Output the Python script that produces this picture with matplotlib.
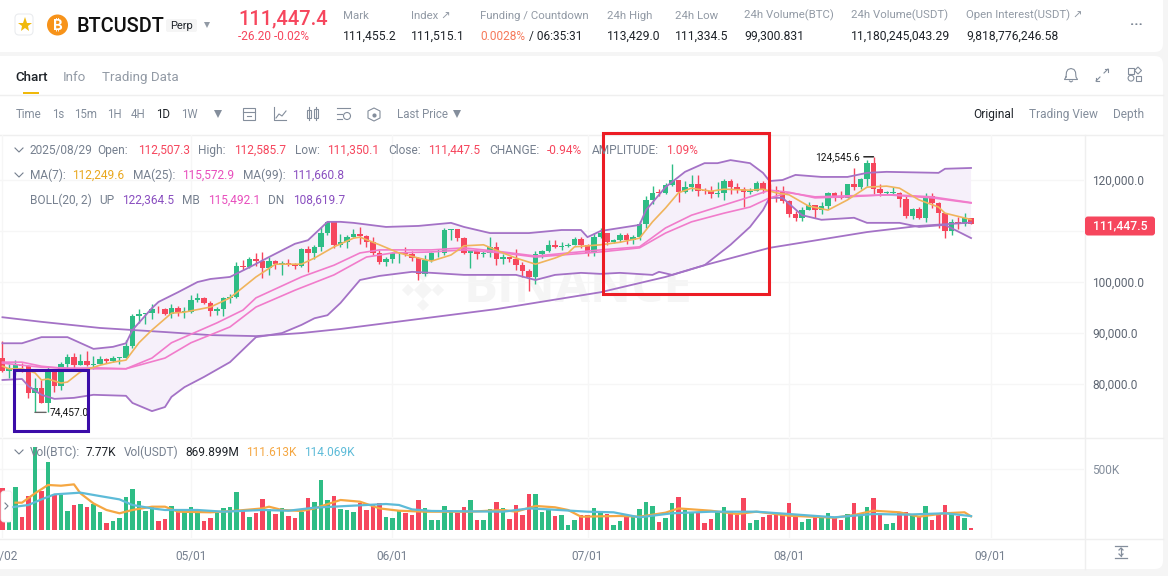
import matplotlib
matplotlib.use("Agg")
import matplotlib.pyplot as plt
from matplotlib.patches import FancyBboxPatch, Rectangle, Circle, Polygon, Wedge

plt.rcParams['font.family'] = ['Roboto', 'DejaVu Sans']

# ---------- data (prices in thousands of USDT, volumes in thousands of BTC; day 0 = 05/01) ----------
first_day = -29
opens = [85.1,82.5,83.1,83.8,83.5,78.2,79.2,76.3,82.6,79.6,84.0,85.3,83.7,84.5,83.7,84.0,84.9,84.5,85.1,85.2,87.5,93.4,93.7,93.9,94.7,94.65,93.8,95.0,94.2,
         94.2,96.5,96.9,95.9,94.3,94.7,96.8,97.0,103.2,102.9,104.6,104.1,102.8,104.1,103.5,103.7,103.5,103.1,106.5,105.6,106.8,109.6,111.7,107.3,107.8,108.9,109.4,109.0,107.8,105.6,103.9,
         104.6,105.6,105.8,105.4,104.7,101.5,104.3,105.6,105.7,110.2,110.3,108.6,105.6,106.0,105.4,105.6,106.8,104.6,104.9,104.6,103.3,102.1,100.9,105.4,106.0,107.3,106.9,107.1,107.3,108.4,
         107.2,105.7,108.8,109.6,107.9,108.2,109.2,108.2,108.9,111.3,116.0,117.5,117.4,119.1,120.0,117.7,118.6,119.2,117.9,117.85,117.3,117.4,119.9,118.6,118.3,117.6,117.9,119.4,118.0,117.9,117.8,
         115.8,113.3,112.5,114.2,115.1,114.1,115.0,117.5,116.6,116.5,119.3,118.7,120.1,123.3,118.3,117.4,117.45,117.5,116.2,112.9,114.3,112.5,116.9,115.4,113.5,110.1,111.8,111.3,112.5]
closes = [82.5,83.1,83.8,83.5,78.2,79.2,76.3,82.6,79.6,84.0,85.3,83.7,84.5,83.7,84.0,84.9,84.5,85.1,85.2,87.5,93.4,93.7,93.9,94.7,94.65,93.8,95.0,94.2,94.2,
          96.5,96.9,95.9,94.3,94.7,96.8,97.0,103.2,102.9,104.6,104.1,102.8,104.1,103.5,103.7,103.5,103.1,106.5,105.6,106.8,109.6,111.7,107.3,107.8,108.9,109.4,109.0,107.8,105.6,103.9,104.6,
          105.6,105.8,105.4,104.7,101.5,104.3,105.6,105.7,110.2,110.3,108.6,105.6,106.0,105.4,105.6,106.8,104.6,104.9,104.6,103.3,102.1,100.9,105.4,106.0,107.3,106.9,107.1,107.3,108.4,107.2,
          105.7,108.8,109.6,107.9,108.2,109.2,108.2,108.9,111.3,116.0,117.5,117.4,119.1,120.0,117.7,118.6,119.2,117.9,117.85,117.3,117.4,119.9,118.6,118.3,117.6,117.9,119.4,118.0,117.9,117.8,115.8,
          113.3,112.5,114.2,115.1,114.1,115.0,117.5,116.6,116.5,119.3,118.7,120.1,123.3,118.3,117.4,117.45,117.5,116.2,112.9,114.3,112.5,116.9,115.4,113.5,110.1,111.8,111.3,112.5,111.4475]
highs = [88.4,83.9,84.7,84.2,83.8,81.2,80.8,83.5,82.7,84.3,85.9,86.1,85.8,86.5,85.5,85.5,85.1,85.6,85.3,88.6,93.8,94.7,94.0,95.7,95.3,95.0,95.6,95.4,95.2,
         97.4,97.9,97.0,96.3,95.2,97.0,97.7,104.0,104.3,104.9,105.7,105.8,104.9,104.3,104.1,104.5,103.7,106.6,107.0,107.3,110.7,112.0,111.9,109.5,109.3,110.4,110.7,109.3,108.9,106.3,104.9,
         105.8,105.9,106.8,106.0,105.0,105.3,105.9,106.4,110.5,110.4,110.4,108.8,106.2,106.2,106.1,108.9,107.8,105.5,105.0,106.5,103.9,102.5,106.0,106.3,108.2,108.2,107.8,107.6,108.8,108.8,
         107.5,109.7,110.5,109.7,108.4,109.7,109.7,109.2,111.9,116.8,118.9,118.2,119.4,123.2,120.0,119.8,120.9,120.9,118.5,118.9,119.7,120.2,120.2,119.5,118.6,118.5,119.8,119.8,119.2,118.8,118.9,
         116.0,114.0,114.8,115.7,115.1,115.7,117.6,117.6,117.9,119.3,122.3,120.3,124.0,124.5456,119.3,117.9,118.6,117.6,116.8,114.6,114.8,117.4,117.4,115.7,113.6,112.4,112.7,113.5,112.5857]
lows = [82.3,81.2,81.7,82.4,77.2,74.457,76.2,74.6,78.4,78.9,82.8,83.0,83.7,83.6,83.0,83.9,84.1,84.4,83.9,85.1,87.1,91.9,91.7,92.8,93.9,93.6,92.9,93.4,92.9,
        94.0,96.0,95.6,93.4,93.5,93.4,95.8,96.9,102.3,102.7,103.2,100.7,101.3,102.6,101.4,103.1,102.5,103.0,102.0,104.6,106.1,109.3,106.7,106.8,106.6,108.8,107.5,106.8,105.3,103.6,103.1,
        103.7,103.7,105.1,104.1,100.4,101.1,103.9,104.9,105.3,108.3,108.1,105.4,102.7,104.5,104.9,104.9,103.4,103.5,103.9,102.3,101.0,98.2,99.6,104.7,105.8,106.6,106.2,106.8,107.2,106.7,
        105.1,105.1,108.6,107.2,107.7,107.8,107.5,107.4,108.3,110.6,115.2,116.9,117.3,118.9,115.7,117.4,117.8,116.8,117.3,116.5,116.6,116.1,117.3,117.4,114.7,117.2,117.8,117.4,117.0,115.7,115.5,
        112.7,112.0,112.0,114.1,112.6,113.3,114.3,115.9,116.3,116.5,118.1,118.2,118.9,117.2,116.8,117.2,117.2,114.7,112.6,112.4,112.3,111.7,114.6,110.6,108.7,109.3,110.4,110.9,111.3501]
volumes = [341,68,350,104,278,683,322,554,287,287,158,205,213,186,213,145,60,76,96,273,333,235,158,191,76,87,197,158,169,
           186,137,74,96,137,177,186,314,158,104,142,254,169,131,177,117,96,150,259,227,410,246,278,169,161,150,218,164,213,224,104,
           101,158,142,123,246,177,82,82,197,150,137,186,246,82,82,169,229,177,90,205,126,295,295,147,164,117,123,41,82,120,
           123,177,145,131,41,76,109,109,172,227,199,68,96,224,270,164,150,142,55,87,150,186,156,123,259,60,82,109,123,123,137,
           224,104,68,87,115,104,137,96,82,131,218,123,191,259,123,49,60,150,145,123,104,199,82,123,205,137,115,101,14]

upper_days = [-29,-26,-25,-23,-19,-15,-12,-10,-9,-6,-5,-2,1,3,6,9,12,16,18,21,23,25,30,35,40,42,46,52,57,60,61,63,69,70,73,76,79,81,83,86,88,89,91,93,97,101,104,107,115,116,120]
upper_vals = [88.0,88.0,88.4,89.2,89.2,86.9,87.3,88.0,90.6,94.9,96.1,98.0,100.0,100.6,101.0,102.9,104.9,107.5,108.2,111.8,111.8,111.6,110.8,111.0,111.6,110.8,109.6,109.6,110.2,110.2,108.8,110.0,111.2,114.1,118.6,121.6,123.3,123.3,123.9,123.3,121.4,119.8,120.0,121.0,120.6,120.6,121.4,121.6,121.4,122.2,122.36]
lower_days = [-29,-26,-25,-23,-21,-18,-15,-10,-9,-6,-4,-3,-1,2,6,10,14,17,19,21,23,26,29,34,37,42,50,53,56,60,63,66,71,72,74,79,81,83,86,88,89,91,94,97,102,104,109,112,116,120]
lower_vals = [80.8,81.0,79.6,77.9,77.1,77.3,77.9,77.7,76.3,74.7,75.5,77.5,79.4,81.4,84.3,89.2,90.0,91.6,92.9,93.5,95.9,100.4,101.2,102.0,101.8,101.4,101.4,100.4,101.4,101.8,101.6,101.8,101.4,102.0,101.4,103.3,105.3,107.3,110.8,114.1,116.5,116.5,113.1,112.2,112.6,111.6,111.6,110.8,111.2,108.62]
mid_days = [-29,-26,-23,-19,-15,-10,-6,-3,4,8,10,17,22,26,29,37,42,48,53,63,69,73,77,82,86,89,92,96,101,107,114,120]
mid_vals = [84.3,84.3,83.5,83.0,83.2,83.0,85.1,88.1,92.0,94.5,96.9,101.0,103.3,105.7,106.3,106.3,106.7,105.9,105.1,106.3,106.9,110.6,113.1,115.1,116.7,118.0,117.6,116.5,116.7,117.1,116.5,115.49]
ma7_days = [-29,-28,-26,-24,-23,-22,-20,-19,-17,-14,-12,-10,-8,-6,-3,-1,3,6,10,13,17,19,22,25,26,29,32,35,37,40,42,45,48,50,53,56,58,59,63,66,69,71,73,75,77,80,82,86,88,90,92,95,98,101,104,107,109,112,115,116,120]
ma7_vals = [83.5,83.0,83.0,82.2,80.8,81.0,80.2,80.4,82.4,83.7,84.3,84.7,88.1,90.6,93.9,94.1,95.1,96.9,101.0,103.5,103.5,104.7,106.9,108.6,108.8,107.3,105.7,104.7,104.1,105.3,107.1,107.3,105.7,104.7,103.5,104.7,105.7,106.9,107.3,107.8,108.6,111.8,114.5,117.5,118.4,117.8,118.2,118.0,118.2,117.5,117.1,114.9,114.1,116.1,118.6,118.8,118.4,116.1,114.7,113.5,112.25]
ma25_days = [-29,-23,-15,-10,-4,0,6,10,16,22,27,31,37,42,48,53,63,69,73,77,82,86,89,92,96,101,108,114,120]
ma25_vals = [84.1,83.3,83.0,83.0,85.1,88.1,91.2,95.1,98.4,101.4,104.9,105.7,105.9,106.3,105.7,104.9,105.9,106.7,109.6,111.8,113.5,114.7,116.5,117.5,116.7,116.9,117.1,116.7,115.57]
ma99_days = [-29,-23,-14,-4,3,10,17,23,47,63,73,79,89,104,112,120]
ma99_vals = [93.1,92.2,91.0,90.2,89.6,89.4,90.0,90.8,94.7,98.0,101.0,103.3,106.7,109.8,111.0,111.66]
vol_ma_a_days = [-27,-26,-24,-22,-20,-18,-17,-15,-13,-11,-9,-6,-4,-2,3,7,11,12,14,17,19,23,26,29,32,36,43,48,50,53,56,58,60,66,69,73,75,80,84,87,92,99,102,105,109,112,116,119,120]
vol_ma_a_vals = [224,224,300,369,363,374,300,218,164,137,164,191,191,150,145,158,177,191,164,156,177,246,232,177,158,150,150,164,150,197,186,164,109,115,109,142,177,158,131,150,117,101,123,158,145,109,137,145,111.6]
vol_ma_b_days = [-29,-27,-25,-23,-21,-17,-14,-11,-9,-6,-4,1,5,11,15,19,24,30,32,34,37,48,52,55,61,65,69,74,80,87,92,99,105,110,116,120]
vol_ma_b_vals = [177,191,205,251,292,306,278,251,205,177,164,164,150,164,158,183,197,213,205,169,156,150,177,169,150,145,104,137,150,150,131,104,131,126,137,114.1]

month_ticks = [-29,0,31,61,92,123]
month_labels = ['04/02','05/01','06/01','07/01','08/01','09/01']
price_ticks = [80,90,100,110,120]
price_labels = ['80,000.0','90,000.0','100,000.0','','120,000.0']

GREEN, RED = '#2EBD85', '#F6465D'
PURPLE, PINK, GOLD = '#A472C6', '#F17CCB', '#F0B45C'
GRID = '#F6F6F6'
LINE = '#EFEFEF'
GREY, DARK, LIGHT = '#848E9C', '#1E2329', '#929AA5'

W, H = 1168, 576
fig = plt.figure(figsize=(W/100, H/100), dpi=100, facecolor='#F5F5F5')

def px_axes(z):
    a = fig.add_axes([0, 0, 1, 1], zorder=z)
    a.set_xlim(0, W); a.set_ylim(H, 0); a.axis('off'); a.patch.set_visible(False)
    return a

bg = px_axes(0)
fg = px_axes(5)

for y0, y1 in ((-12, 52), (56, 569)):
    bg.add_patch(FancyBboxPatch((-12, y0), 1175, y1-y0, boxstyle='round,pad=0,rounding_size=8', fc='white', ec='none'))
for seg in ([(0, 1163), (94.5, 94.5)], [(0, 1163), (134.5, 134.5)], [(0, 1163), (437.5, 437.5)], [(0, 1163), (538.5, 538.5)], [(1084.5, 1084.5), (135, 569)]):
    bg.plot(seg[0], seg[1], color=LINE, lw=1)

# watermark
bg.text(578, 289, 'BINANCE', color='#F5F5F5', fontsize=36.5, fontweight='bold', ha='center', va='center', family='Open Sans')
for (cx, cy, r) in ((423, 290, 9), (423, 275, 6), (423, 305, 6), (408, 290, 6), (438, 290, 6)):
    bg.add_patch(Polygon([(cx-r, cy), (cx, cy-r), (cx+r, cy), (cx, cy+r)], fc='#F5F5F5', ec='none'))

# ---------- price and volume axes ----------
left, right = 0, 1084
def chart_axes(top, bottom):
    a = fig.add_axes([left/W, 1-bottom/H, (right-left)/W, (bottom-top)/H], zorder=2)
    a.patch.set_visible(False)
    for s in a.spines.values():
        s.set_visible(False)
    a.set_xlim(-29.38, 137.38)
    return a

ax = chart_axes(135, 437)
ax.set_ylim(120-(437-180)*0.196, 120+45*0.196)
vax = chart_axes(438, 538)
vax.set_ylim(-65.6, 754)

days = [first_day+i for i in range(len(closes))]
colors = [GREEN if c >= o else RED for o, c in zip(opens, closes)]

ax.set_xticks(month_ticks); ax.set_xticklabels([])
ax.set_yticks(price_ticks); ax.set_yticklabels(price_labels)
ax.yaxis.tick_right()
ax.tick_params(axis='both', length=0, pad=6, labelsize=8.6, labelcolor='#5E6673')
ax.grid(True, color=GRID, lw=1); ax.set_axisbelow(True)

vax.set_xticks(month_ticks); vax.set_xticklabels(month_labels)
vax.set_yticks([500]); vax.set_yticklabels(['500K'])
vax.yaxis.tick_right()
vax.tick_params(axis='y', length=0, pad=5.5, labelsize=8.6, labelcolor='#848E9C')
vax.tick_params(axis='x', length=0, pad=8.5, labelsize=8.6, labelcolor='#76808F')
vax.grid(True, color=GRID, lw=1); vax.set_axisbelow(True)

# Bollinger band
ax.fill(upper_days + lower_days[::-1], upper_vals + lower_vals[::-1], color='#F6F0FA', lw=0, zorder=1)

# candles
ax.vlines(days, lows, highs, colors=colors, lw=1.0, zorder=2)
ax.bar(days, [max(abs(c-o), 0.15) for o, c in zip(opens, closes)], bottom=[min(o, c) for o, c in zip(opens, closes)],
       width=0.8, color=colors, lw=0, zorder=3)

# overlays
ax.plot(ma99_days, ma99_vals, color=PURPLE, lw=1.3, zorder=4)
ax.plot(upper_days, upper_vals, color=PURPLE, lw=1.3, zorder=4)
ax.plot(lower_days, lower_vals, color=PURPLE, lw=1.3, zorder=4)
ax.plot(mid_days, mid_vals, color=PINK, lw=1.2, zorder=4)
ax.plot(ma25_days, ma25_vals, color=PINK, lw=1.2, zorder=4)
ax.plot(ma7_days, ma7_vals, color=GOLD, lw=1.2, zorder=5)

# extreme price labels
imax = highs.index(max(highs)); imin = lows.index(min(lows))
ax.annotate(f'{highs[imax]*1000:,.1f}', xy=(days[imax], highs[imax]), xytext=(-9.5, 0), textcoords='offset points',
            ha='right', va='center', fontsize=7.3, color='#111111', annotation_clip=False,
            arrowprops=dict(arrowstyle='-', color='#111111', lw=1, shrinkA=0.5, shrinkB=0), zorder=6)
ax.annotate(f'{lows[imin]*1000:,.1f}', xy=(days[imin], lows[imin]), xytext=(10.5, 0), textcoords='offset points',
            ha='left', va='center', fontsize=7.3, color='#111111', annotation_clip=False,
            arrowprops=dict(arrowstyle='-', color='#666666', lw=1, shrinkA=0.5, shrinkB=0), zorder=6)

# volume
vax.bar(days, volumes, width=0.72, color=colors, lw=0, zorder=2)
vax.plot(vol_ma_a_days, vol_ma_a_vals, color='#F5A742', lw=1.6, zorder=3)
vax.plot(vol_ma_b_days, vol_ma_b_vals, color='#5DBBD8', lw=1.6, zorder=4)

# ---------- chrome, text ----------
def T(x, y, s, color=GREY, size=8.6, ha='left', weight='normal', **kw):
    fg.text(x, y+0.7, s, color=color, fontsize=size, ha=ha, va='center', fontweight=weight, **kw)

fg.add_patch(FancyBboxPatch((15, 14), 18, 21, boxstyle='round,pad=0,rounding_size=4', fc='white', ec='#EAECEF', lw=0.8))
fg.plot([24.5], [24.5], marker='*', ms=11, color='#F0B90B', mew=0)
fg.add_patch(Circle((57.5, 25), 10.5, fc='#F7931A', ec='none'))
T(57.5, 24.5, '₿', color='white', size=10.5, ha='center', weight='bold', family=['Inter', 'Noto Sans', 'Open Sans', 'Lato', 'DejaVu Sans'])
T(77, 25.5, 'BTCUSDT', color='#111111', size=14.3, weight='medium')
fg.add_patch(FancyBboxPatch((166, 19), 31, 13, boxstyle='round,pad=0,rounding_size=2', fc='#F5F5F5', ec='none'))
T(170, 25, 'Perp', color=DARK, size=8)
fg.plot([207], [24.5], marker='v', ms=5, color='#929AA5', mew=0)
T(238, 18.5, '111,447.4', color=RED, size=14.4, weight='medium')
T(238, 35.5, '-26.20 -0.02%', color=RED, size=8.6)

for x, lab, val in ((343, 'Mark', '111,455.2'), (411, 'Index ↗', '111,515.1'), (607, '24h High', '113,429.0'), (675, '24h Low', '111,334.5'),
                    (744, '24h Volume(BTC)', '99,300.831'), (851, '24h Volume(USDT)', '11,180,245,043.29'), (966, 'Open Interest(USDT) ↗', '9,818,776,246.58')):
    T(x, 15, lab, color=LIGHT, size=8.2)
    T(x, 35.5, val, color=DARK, size=8.7)
T(480, 15, 'Funding / Countdown', color=LIGHT, size=8.2)
T(480, 35.5, '0.0028%', color='#F6795A', size=8.6)
T(526, 35.5, ' / 06:35:31', color=DARK, size=8.6)
T(1136, 24, '···', color='#76808F', size=10, ha='center', weight='bold')

T(15, 77, 'Chart', color=DARK, size=9.6, weight='medium')
T(63, 77, 'Info', color=LIGHT, size=9.6)
T(102, 77, 'Trading Data', color=LIGHT, size=9.6)
fg.add_patch(Rectangle((23, 92), 16, 2.4, fc='#F0B90B', ec='none'))

for x, s, c in ((16, 'Time', GREY), (52, '1s', GREY), (74, '15m', GREY), (107, '1H', GREY), (131, '4H', GREY), (156, '1D', DARK), (181, '1W', GREY), (397, 'Last Price', GREY)):
    T(x, 114, s, color=c, size=8.3)
fg.plot([218, 457], [114, 114], ls='none', marker='v', ms=5.5, color='#848E9C', mew=0)
T(973, 114, 'Original', color=DARK, size=8.6)
T(1029, 114, 'Trading View', color=GREY, size=8.6)
T(1113, 114, 'Depth', color=GREY, size=8.6)

# toolbar icons
ic = '#848E9C'
fg.add_patch(Rectangle((243, 108), 12, 12, fc='none', ec=ic, lw=0.8))
fg.plot([243, 255], [111.5, 111.5], color=ic, lw=0.8)
fg.plot([247, 251], [116, 116], color=ic, lw=0.8)
fg.plot([274, 274, 286], [107, 120, 120], color=ic, lw=0.8)
fg.plot([276, 279, 282, 286], [118, 114, 116, 111], color=ic, lw=0.8)
fg.add_patch(Rectangle((307, 110), 3.5, 8, fc='none', ec=ic, lw=0.8))
fg.add_patch(Rectangle((314, 109), 3.5, 9, fc='none', ec=ic, lw=0.8))
fg.plot([309, 309], [107, 120], color=ic, lw=0.8)
fg.plot([316, 316], [107, 120], color=ic, lw=0.8)
fg.plot([337, 350], [108, 108], color=ic, lw=0.8)
fg.plot([337, 342], [114, 114], color=ic, lw=0.8)
fg.plot([337, 342], [119, 119], color=ic, lw=0.8)
fg.add_patch(Circle((347, 116), 3.5, fc='none', ec=ic, lw=0.8))
fg.add_patch(Polygon([(374, 108), (380, 111), (380, 118), (374, 121), (368, 118), (368, 111)], fc='none', ec=ic, lw=0.8))
fg.plot([374], [114.5], marker='o', ms=2, color=ic)
# right icons: bell, expand, layout
fg.plot([1066, 1066.5, 1068, 1071, 1074, 1075.5, 1076, 1077.5, 1064.5, 1066], [77, 72, 69.5, 68.5, 69.5, 72, 77, 79.5, 79.5, 77], color=ic, lw=0.8)
fg.plot([1069.5, 1071, 1072.5], [81, 82, 81], color=ic, lw=0.8)
fg.plot([1096, 1100], [81, 77], color=ic, lw=0.8)
fg.plot([1096, 1096, 1099], [78, 81, 81], color=ic, lw=0.8)
fg.plot([1104, 1108], [73, 69], color=ic, lw=0.8)
fg.plot([1105, 1108, 1108], [69, 69, 72], color=ic, lw=0.8)
fg.add_patch(Rectangle((1128, 68), 5.5, 5.5, fc='none', ec=ic, lw=0.8))
fg.add_patch(Rectangle((1135.5, 75.5), 5.5, 5.5, fc='none', ec=ic, lw=0.8))
fg.add_patch(Circle((1131, 78.2), 2.9, fc='none', ec=ic, lw=0.8))
fg.add_patch(Polygon([(1138, 67), (1141.5, 70.5), (1138, 74), (1134.5, 70.5)], fc='none', ec=ic, lw=0.8))
fg.plot([1115, 1127], [546, 546], color=ic, lw=0.9)
fg.plot([1115, 1127], [558, 558], color=ic, lw=0.9)
fg.plot([1121, 1121], [548, 556], color=ic, lw=0.9)
fg.plot([1119, 1121, 1123], [550, 548, 550], color=ic, lw=0.9)
fg.plot([1119, 1121, 1123], [554, 556, 554], color=ic, lw=0.9)

# legends
L = '#76808F'
def chev(y):
    fg.plot([15, 19, 23], [y-2, y+2, y-2], color=L, lw=0.8)
chev(150); chev(175); chev(452)
for x, s, c in ((30, '2025/08/29', L), (97, 'Open:', L), (138, '112,507.3', RED), (198, 'High:', L), (234, '112,585.7', RED), (295, 'Low:', L), (327, '111,350.1', RED),
                (388, 'Close:', L), (428, '111,447.5', RED), (489, 'CHANGE:', L), (547, '-0.94%', RED), (592, 'AMPLITUDE:', L), (666, '1.09%', RED)):
    T(x, 150, s, color=c)
for x, s, c in ((30, 'MA(7):', L), (72, '112,249.6', '#E9A820'), (133, 'MA(25):', L), (182, '115,572.9', '#E84FBD'), (243, 'MA(99):', L), (292, '111,660.8', '#8A4FC0')):
    T(x, 175, s, color=c)
for x, s, c in ((30, 'BOLL(20, 2)', L), (99, 'UP', L), (122, '122,364.5', '#8A4FC0'), (182, 'MB', L), (208, '115,492.1', '#E84FBD'), (268, 'DN', L), (293, '108,619.7', '#8A4FC0')):
    T(x, 200, s, color=c)
for x, s, c in ((30, 'Vol(BTC):', L), (86, '7.77K', DARK), (124, 'Vol(USDT)', L), (185, '869.899M', DARK), (246, '111.613K', '#F5A742'), (304, '114.069K', '#5DBBD8')):
    T(x, 452, s, color=c)

# current price tag
fg.add_patch(FancyBboxPatch((1085, 216.5), 70, 19, boxstyle='round,pad=0,rounding_size=3', fc=RED, ec='none'))
T(1120, 225.5, f'{closes[-1]*1000:,.1f}', color='white', size=8.8, ha='center', weight='medium')

# scroll handle
fg.add_patch(FancyBboxPatch((1, 491), 11, 31, boxstyle='round,pad=0,rounding_size=3', fc='white', ec='#EAECEF', lw=0.6))
fg.plot([5, 8, 5], [503, 506, 509], color=L, lw=0.8)

# highlight boxes
fg.add_patch(Rectangle((603, 132.5), 165.5, 161.5, fc='none', ec='#EC1C24', lw=2.2))
fg.add_patch(Rectangle((14, 370), 74, 61, fc='none', ec='#3B0CA8', lw=2.2))

fig.savefig('out.png', dpi=100, facecolor=fig.get_facecolor())
